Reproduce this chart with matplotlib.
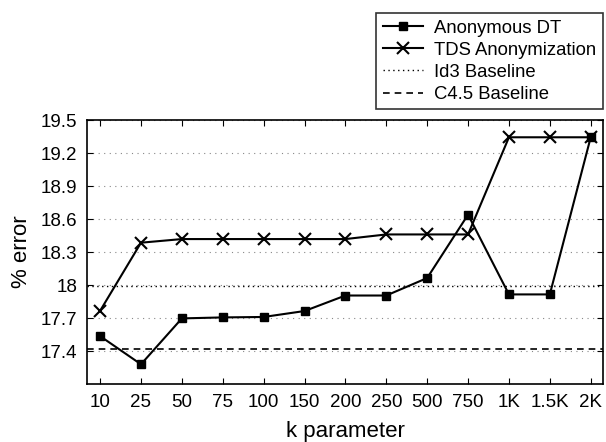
import numpy as np
import matplotlib.pyplot as plt

plt.rcParams['font.family'] = ['Liberation Sans', 'DejaVu Sans']

# data
k_labels = ["10", "25", "50", "75", "100", "150", "200", "250", "500", "750", "1K", "1.5K", "2K"]
anon_dt = [17.536, 17.28, 17.697, 17.706, 17.71, 17.764, 17.905, 17.905, 18.064, 18.64, 17.915, 17.915, 19.343]
tds_anon = [17.766, 18.385, 18.418, 18.418, 18.418, 18.418, 18.418, 18.46, 18.46, 18.46, 19.343, 19.343, 19.343]
id3_base = 17.99
c45_base = 17.418
y_ticks = [17.4, 17.7, 18, 18.3, 18.6, 18.9, 19.2, 19.5]

fig = plt.figure(figsize=(6.06, 4.42), dpi=100)
ax = fig.add_axes([0.1436, 0.131, 0.8514, 0.5975])

x = np.arange(len(k_labels))

ax.plot(x, anon_dt, color="black", lw=1.5, marker="s", ms=5.5, label="Anonymous DT")
ax.plot(x, tds_anon, color="black", lw=1.5, marker="x", ms=9, mew=1.5, label="TDS Anonymization")
ax.axhline(id3_base, color="black", lw=1, ls=(0, (1, 2.5)), label="Id3 Baseline")
ax.axhline(c45_base, color="black", lw=1.2, ls=(0, (4, 3)), label="C4.5 Baseline")

ax.set_xlim(-0.32, 12.3)
ax.set_ylim(17.1, 19.5)
ax.set_xticks(x)
ax.set_xticklabels(k_labels)
ax.set_yticks(y_ticks)
ax.set_yticklabels([f"{v:g}" for v in y_ticks])
ax.yaxis.grid(True, color="#888888", ls=(0, (1, 4)), lw=0.8)
ax.tick_params(direction="in", top=True, right=True, labelsize=13.5, length=4, pad=7)
for s in ax.spines.values():
    s.set_linewidth(1.2)

ax.set_xlabel("k parameter", fontsize=16, labelpad=7)
ax.set_ylabel("% error", fontsize=16, labelpad=6)

leg = ax.legend(loc="upper right", bbox_to_anchor=(1.0, 1.405), fontsize=13.3,
                frameon=True, fancybox=False, edgecolor="black", handlelength=2.2,
                borderpad=0.35, labelspacing=0.28, handletextpad=0.6, borderaxespad=0)
leg.get_frame().set_linewidth(1.2)

fig.savefig("out.png", dpi=100)
